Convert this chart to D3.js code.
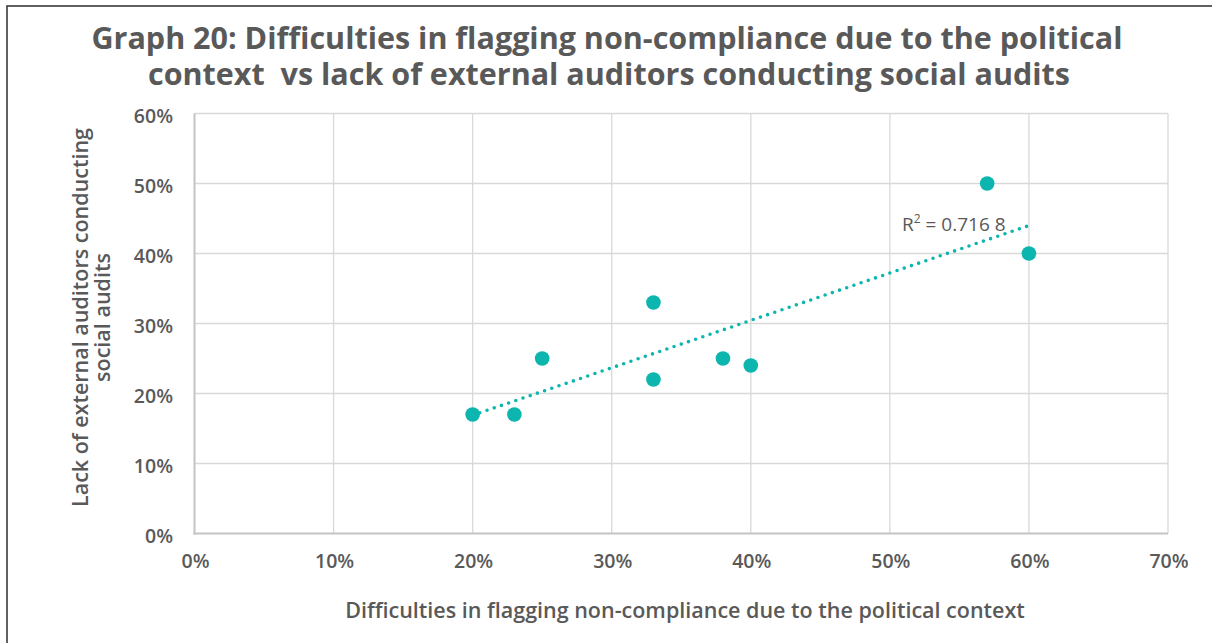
<!DOCTYPE html>
<meta charset="utf-8">
<style>
    html, body {
        margin: 0;
        background: white;
    }

    text {
        font-family: "Open Sans", sans-serif;
        fill: #595959;
    }

    .grid line {
        stroke: #d9d9d9;
        stroke-width: 1.3px;
    }

    .axis-line {
        stroke: #c4c4c4;
        stroke-width: 2px;
    }

    .tick-label {
        font-size: 19.5px;
        font-weight: 600;
    }

    .axis-title {
        font-size: 21.5px;
        font-weight: 600;
    }

    .title {
        font-size: 30.5px;
        font-weight: 700;
        white-space: pre;
    }
</style>
<div id="container"></div>
<script src="https://d3js.org/d3.v7.min.js"></script>
<script>
    // data (percent)
    var politicalContext = [20, 23, 25, 33, 33, 38, 40, 57, 60];
    var lackOfAuditors   = [17, 17, 25, 33, 22, 25, 24, 50, 40];
    var xTicks = [0, 10, 20, 30, 40, 50, 60, 70];
    var yTicks = [0, 10, 20, 30, 40, 50, 60];
    var rSquaredLabel = "0.716 8";

    var width = 1212, height = 643;
    var color = "#0cb5ae";

    var svg = d3.select("div#container")
        .append("svg")
        .attr("width", width)
        .attr("height", height);

    // chart border (runs off the right and bottom edges)
    svg.append("rect")
        .attr("x", 7)
        .attr("y", 6)
        .attr("width", width)
        .attr("height", height)
        .attr("fill", "white")
        .attr("stroke", "#3a3a3a")
        .attr("stroke-width", 1.6);

    // scales
    var x = d3.scaleLinear().domain([0, 70]).range([194.5, 1168]);
    var y = d3.scaleLinear().domain([0, 60]).range([533.5, 113.5]);

    // title
    var title = svg.append("text")
        .attr("class", "title")
        .attr("text-anchor", "middle");
    title.append("tspan").attr("x", 607).attr("y", 49)
        .text("Graph 20: Difficulties in flagging non-compliance due to the political");
    title.append("tspan").attr("x", 609).attr("y", 85)
        .text("context  vs lack of external auditors conducting social audits");

    // gridlines
    var grid = svg.append("g").attr("class", "grid");
    grid.selectAll("line.h")
        .data(yTicks.filter(function(d) { return d > 0; }))
        .enter().append("line")
        .attr("class", "h")
        .attr("x1", x(0)).attr("x2", x(70))
        .attr("y1", function(d) { return y(d); })
        .attr("y2", function(d) { return y(d); });
    grid.selectAll("line.v")
        .data(xTicks.filter(function(d) { return d > 0; }))
        .enter().append("line")
        .attr("class", "v")
        .attr("y1", y(0)).attr("y2", y(60))
        .attr("x1", function(d) { return x(d); })
        .attr("x2", function(d) { return x(d); });

    // axis lines
    svg.append("line").attr("class", "axis-line")
        .attr("x1", x(0)).attr("x2", x(0)).attr("y1", y(60)).attr("y2", y(0) + 1);
    svg.append("line").attr("class", "axis-line")
        .attr("x1", x(0) - 1).attr("x2", x(70)).attr("y1", y(0)).attr("y2", y(0));

    // tick labels
    svg.selectAll("text.ytick")
        .data(yTicks)
        .enter().append("text")
        .attr("class", "tick-label ytick")
        .attr("text-anchor", "end")
        .attr("x", 173)
        .attr("y", function(d) { return y(d) + 9; })
        .text(function(d) { return d + "%"; });

    svg.selectAll("text.xtick")
        .data(xTicks)
        .enter().append("text")
        .attr("class", "tick-label xtick")
        .attr("text-anchor", "middle")
        .attr("x", function(d) { return x(d) + 1; })
        .attr("y", 568)
        .text(function(d) { return d + "%"; });

    // axis titles
    svg.append("text")
        .attr("class", "axis-title")
        .attr("text-anchor", "middle")
        .attr("x", 685)
        .attr("y", 618)
        .text("Difficulties in flagging non-compliance due to the political context");

    var yTitle = svg.append("text")
        .attr("class", "axis-title")
        .attr("text-anchor", "middle")
        .attr("transform", "translate(0," + ((y(0) + y(60)) / 2 - 6) + ") rotate(-90)");
    yTitle.append("tspan").attr("x", 0).attr("y", 88).text("Lack of external auditors conducting");
    yTitle.append("tspan").attr("x", 0).attr("y", 110).text("social audits");

    // linear trend line over the data range
    var n = politicalContext.length;
    var mx = d3.mean(politicalContext), my = d3.mean(lackOfAuditors);
    var sxy = 0, sxx = 0;
    for (var i = 0; i < n; i++) {
        sxy += (politicalContext[i] - mx) * (lackOfAuditors[i] - my);
        sxx += (politicalContext[i] - mx) * (politicalContext[i] - mx);
    }
    var slope = sxy / sxx, intercept = my - slope * mx;
    var x0 = d3.min(politicalContext), x1 = d3.max(politicalContext);

    svg.append("line")
        .attr("x1", x(x0)).attr("y1", y(intercept + slope * x0))
        .attr("x2", x(x1)).attr("y2", y(intercept + slope * x1))
        .attr("stroke", color)
        .attr("stroke-width", 3.6)
        .attr("stroke-linecap", "round")
        .attr("stroke-dasharray", "0,7.6");

    // points
    svg.selectAll("circle")
        .data(d3.range(n))
        .enter().append("circle")
        .attr("cx", function(i) { return x(politicalContext[i]); })
        .attr("cy", function(i) { return y(lackOfAuditors[i]); })
        .attr("r", 7.3)
        .attr("fill", color);

    // R squared label
    var rLabel = svg.append("text")
        .attr("x", 902)
        .attr("y", 231)
        .style("font-size", "19px");
    rLabel.append("tspan").text("R");
    rLabel.append("tspan").attr("dy", -8).style("font-size", "12px").text("2");
    rLabel.append("tspan").attr("dy", 8).text(" = " + rSquaredLabel);
</script>
